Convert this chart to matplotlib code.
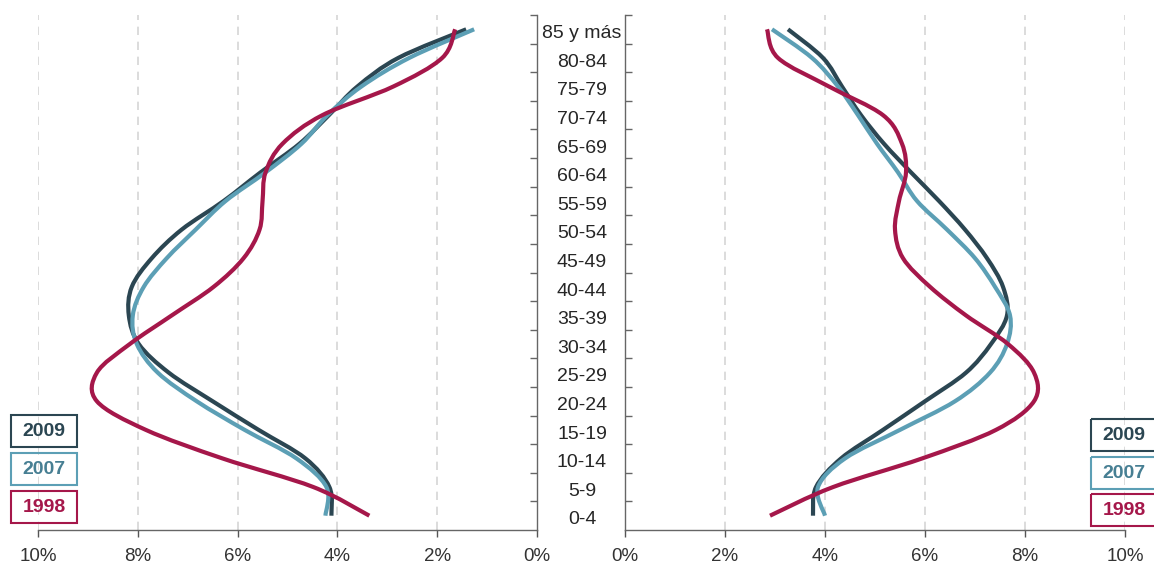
import matplotlib
matplotlib.use("Agg")
import matplotlib.pyplot as plt
import numpy as np
from matplotlib.path import Path
from matplotlib.patches import PathPatch, Rectangle
from matplotlib.transforms import blended_transform_factory

plt.rcParams['font.family'] = ['Liberation Sans', 'DejaVu Sans']

# age groups, bottom to top
ages = ["0-4", "5-9", "10-14", "15-19", "20-24", "25-29", "30-34", "35-39", "40-44",
        "45-49", "50-54", "55-59", "60-64", "65-69", "70-74", "75-79", "80-84", "85 y más"]

# left side (%)
left_2009 = [4.12, 4.16, 4.64, 5.58, 6.50, 7.38, 7.98, 8.18, 8.12, 7.72, 7.12, 6.28, 5.54, 4.76, 4.17, 3.60, 2.78, 1.42]
left_2007 = [4.24, 4.22, 4.82, 5.86, 6.82, 7.60, 8.02, 8.10, 7.88, 7.42, 6.84, 6.24, 5.44, 4.72, 4.20, 3.52, 2.56, 1.26]
left_1998 = [3.36, 4.48, 6.30, 7.84, 8.82, 8.82, 8.16, 7.32, 6.48, 5.88, 5.56, 5.50, 5.44, 5.10, 4.30, 2.88, 1.90, 1.64]

# right side (%)
right_2009 = [3.76, 3.82, 4.32, 5.16, 6.00, 6.82, 7.32, 7.64, 7.56, 7.24, 6.80, 6.28, 5.72, 5.18, 4.72, 4.34, 3.96, 3.26]
right_2007 = [4.00, 3.86, 4.40, 5.50, 6.60, 7.30, 7.64, 7.70, 7.40, 7.00, 6.44, 5.84, 5.46, 5.04, 4.66, 4.26, 3.74, 2.94]
right_1998 = [2.90, 4.16, 5.94, 7.42, 8.18, 8.18, 7.66, 6.82, 6.10, 5.56, 5.40, 5.48, 5.62, 5.54, 5.16, 4.08, 3.06, 2.84]

years = ["2009", "2007", "1998"]
line_colors = ["#2b4652", "#5c9fb5", "#a5174a"]
text_colors = ["#2b4652", "#477f93", "#a5174a"]
ticks_x = [0, 2, 4, 6, 8, 10]


def smooth_path(xs, ys):
    # Bezier smoothing through the points (like a spreadsheet "smoothed line")
    p = np.column_stack([xs, ys]).astype(float)
    ext = np.vstack([p[0], p, p[-1]])
    verts = [p[0]]
    codes = [Path.MOVETO]
    for i in range(len(p) - 1):
        p0, p1, p2, p3 = ext[i], ext[i + 1], ext[i + 2], ext[i + 3]
        c1 = p1 + (p2 - p0) / 6
        c2 = p2 - (p3 - p1) / 6
        verts += [c1, c2, p2]
        codes += [Path.CURVE4] * 3
    return Path(verts, codes)


fig = plt.figure(figsize=(11.54, 5.66), dpi=100)
axL = fig.add_axes([38 / 1154, 36 / 566, 499 / 1154, 515 / 566])
axR = fig.add_axes([625 / 1154, 36 / 566, 500 / 1154, 515 / 566])

y = np.arange(len(ages))
for ax, series, side in [(axL, [left_2009, left_2007, left_1998], "left"),
                         (axR, [right_2009, right_2007, right_1998], "right")]:
    for vals, col in zip(series, line_colors):
        ax.add_patch(PathPatch(smooth_path(vals, y), fill=False, edgecolor=col, lw=3.0,
                               zorder=3, capstyle='butt'))
    for g in ticks_x[1:]:
        ax.axvline(g, color="#d6d6d6", lw=1.2, dashes=(5, 4), zorder=1)
    ax.set_ylim(-0.5, len(ages) - 0.5)
    ax.set_xticks(ticks_x)
    ax.set_xticklabels([f"{t}%" for t in ticks_x], fontsize=13.5, color="#333333")
    ax.tick_params(axis="x", length=5, width=1, color="#555555", pad=8)
    ax.set_yticks([len(ages) - 0.5] + list(y[:-1] + 0.5))
    ax.set_yticklabels([])
    ax.spines["top"].set_visible(False)
    for s in ax.spines.values():
        s.set_color("#666666")
        s.set_linewidth(1.0)
    if side == "left":
        ax.set_xlim(10, 0)
        ax.spines["left"].set_visible(False)
        ax.yaxis.tick_right()
    else:
        ax.set_xlim(0, 10)
        ax.spines["right"].set_visible(False)
    ax.tick_params(axis="y", direction="in", length=5, width=1, color="#666666")

# age labels in the gap between the panels
tr = blended_transform_factory(fig.transFigure, axL.transData)
for i, a in enumerate(ages):
    fig.text(582 / 1154, i - 0.15, a, transform=tr, ha="center", va="center",
             fontsize=14, color="#262626")

# legend boxes
ov = fig.add_axes([0, 0, 1, 1], facecolor="none")
ov.set_xlim(0, 1154)
ov.set_ylim(566, 0)
ov.axis("off")
box_tops_left = [415, 453, 491]
box_tops_right = [419, 457, 494]
for yr, lc, tc, tl, trr in zip(years, line_colors, text_colors, box_tops_left, box_tops_right):
    for x0, top in [(11, tl), (1091, trr)]:
        ov.add_patch(Rectangle((x0, top), 66, 32, fill=False, edgecolor=lc, lw=1.5))
        ov.text(x0 + 33, top + 16.5, yr, ha="center", va="center", fontsize=14,
                fontweight="bold", color=tc)

fig.savefig("out.png", dpi=100)
